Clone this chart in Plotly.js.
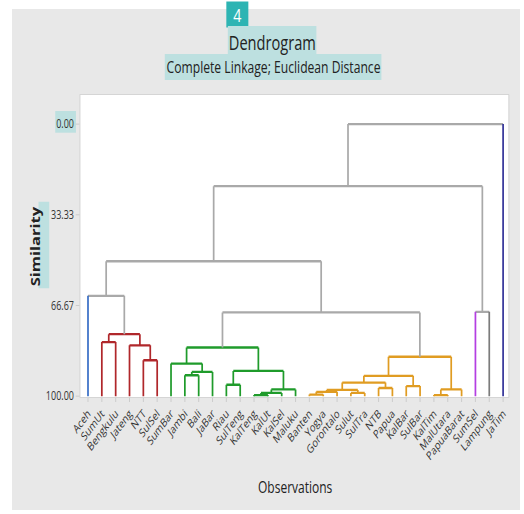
<!DOCTYPE html>
<html><head><meta charset="utf-8">
<script src="https://cdn.plot.ly/plotly-3.0.1.min.js"></script>
<style>
html,body{margin:0;padding:0;background:#fff;overflow:hidden;}
#panel{position:absolute;left:12px;top:9px;width:508px;height:501px;background:#e8e8e8;}
#chart{position:absolute;left:0;top:0;transform-origin:0 0;}
</style></head><body>
<div id="panel"></div><div id="chart"></div>
<script>
// ---- data ----
const leaves = ['Aceh','SumUt','Bengkulu','Jateng','NTT','SulSel','SumBar','Jambi','Bali','JaBar',
  'Riau','SulTeng','KalTeng','KalUt','KalSel','Maluku','Banten','Yogya','Gorontalo','Sulut',
  'SulTra','NTB','Papua','KalBar','SulBar','KalTim','MalUtara','PapuaBarat','SumSel','Lampung','JaTim'];
// linkage: merge k creates node id leaves.length + k
const mergeA = [12,25,16,31,19,33,36,34,32,21,23,10,37,43,7,45,42,6,4,44,48,3,1,53,51,28,0,57,58,59];
const mergeB = [13,26,17,14,20,18,35,15,27,22,24,11,40,41,8,9,38,46,5,39,47,49,2,52,50,29,54,55,56,30];
const mergeSim = [99.6,99.6,99.4,98.8,98.8,98.4,97.7,97.5,97.5,97.0,96.3,95.8,95.0,92.5,92.3,91.1,90.7,88.0,
  86.8,85.5,82.1,81.3,80.1,77.2,69.2,69.0,63.1,50.4,22.8,0.0];
const yTickVals = [0, 33.33, 66.67, 100];
const yTickText = ['0.00','33.33','66.67','100.00'];

// ---- styles ----
const clusterColors = {0:'#3a6fc6', 54:'#b0272b', 51:'#1f9b2b', 50:'#e09c22', 28:'#b43fe2', 29:'#7c7c7c', 30:'#35359a'};
const linkGray = '#a9a9a9';
const FONT = '"Open Sans", sans-serif';
const SX = 0.75;              // horizontal condensing of the whole figure
const W = 524 / SX, H = 514;

const N = leaves.length;
const total = N + mergeA.length;
const xPos = new Array(total), hPos = new Array(total), kids = {};
for (let i = 0; i < N; i++) { xPos[i] = i; hPos[i] = 100; }
mergeA.forEach((a, k) => {
  const id = N + k, b = mergeB[k];
  kids[id] = [a, b];
  xPos[id] = (xPos[a] + xPos[b]) / 2;
  hPos[id] = mergeSim[k];
});
const nodeColor = {};
function paint(n, c) { nodeColor[n] = c; if (kids[n]) kids[n].forEach(ch => paint(ch, c)); }
Object.keys(clusterColors).forEach(r => paint(+r, clusterColors[r]));

const segs = {};
function add(col, x0, y0, x1, y1) {
  if (!segs[col]) segs[col] = {x: [], y: []};
  segs[col].x.push(x0, x1, null); segs[col].y.push(y0, y1, null);
}
mergeA.forEach((a, k) => {
  const p = N + k, b = mergeB[k];
  const pc = nodeColor[p];
  add(pc || linkGray, xPos[a], hPos[p], xPos[b], hPos[p]);
  [a, b].forEach(c => {
    const vc = pc || (c < N ? nodeColor[c] : null) || linkGray;
    add(vc, xPos[c], hPos[c], xPos[c], hPos[p]);
  });
});
const traces = Object.keys(segs).map(col => ({
  type: 'scatter', mode: 'lines', x: segs[col].x, y: segs[col].y,
  line: {color: col, width: 2.3}, hoverinfo: 'skip', showlegend: false
}));

// paper-coordinate helpers from final (on-screen) pixel positions
const px = v => (v - 80) / 428, py = v => (397 - v) / 302;
const hl = '#bde0e0';
const rect = (x0, x1, y0, y1, col) => ({type: 'rect', xref: 'paper', yref: 'paper', x0: px(x0), x1: px(x1),
  y0: py(y1), y1: py(y0), fillcolor: col, line: {width: 0}, layer: 'below'});
const layout = {
  width: W, height: H,
  margin: {l: 80 / SX, r: 16 / SX, t: 95, b: 117},
  paper_bgcolor: 'rgba(0,0,0,0)', plot_bgcolor: '#ffffff',
  showlegend: false,
  font: {family: FONT, color: '#333'},
  xaxis: {range: [-0.56, 30.39], tickmode: 'array', tickvals: leaves.map((_, i) => i), ticktext: leaves,
    tickangle: -45, ticks: 'outside', ticklen: 4, tickcolor: '#c8c8c8', showline: true, linecolor: '#d2d2d2',
    mirror: true, showgrid: false, zeroline: false, tickfont: {family: FONT, size: 12, color: '#333'}},
  yaxis: {range: [100.3, -10.7], tickmode: 'array', tickvals: yTickVals, ticktext: yTickText,
    ticks: 'outside', ticklen: 5, tickcolor: '#c8c8c8', showline: true, linecolor: '#d2d2d2', mirror: true,
    showgrid: false, zeroline: false, tickfont: {family: FONT, size: 12, color: '#333'}},
  shapes: [
    rect(226, 248, 1.5, 27.5, '#2db4b3'),
    rect(227.5, 316, 26, 56.7, hl),
    rect(164.5, 381, 54, 80, hl),
    rect(55, 75.7, 111, 132.7, hl),
    rect(38.3, 49, 201.7, 288.3, hl)
  ],
  annotations: [
    {xref: 'paper', yref: 'paper', x: px(237), y: py(15), text: '4', showarrow: false, xanchor: 'center', yanchor: 'middle',
      font: {family: FONT, size: 19, color: '#ffffff'}},
    {xref: 'paper', yref: 'paper', x: px(272), y: py(42), text: 'Dendrogram', showarrow: false, xanchor: 'center', yanchor: 'middle',
      font: {family: FONT, size: 19.5, color: '#222'}},
    {xref: 'paper', yref: 'paper', x: px(272.7), y: py(67.5), text: 'Complete Linkage; Euclidean Distance', showarrow: false, xanchor: 'center', yanchor: 'middle',
      font: {family: FONT, size: 16.2, color: '#222'}},
    {xref: 'paper', yref: 'paper', x: px(34.5), y: py(246), text: 'Similarity', textangle: -90, showarrow: false, xanchor: 'center', yanchor: 'middle',
      font: {family: FONT, size: 16.5, color: '#222', weight: 'bold'}},
    {xref: 'paper', yref: 'paper', x: px(295), y: py(487), text: 'Observations', showarrow: false, xanchor: 'center', yanchor: 'middle',
      font: {family: FONT, size: 16, color: '#222'}}
  ]
};
document.getElementById('chart').style.transform = 'scaleX(' + SX + ')';
Plotly.newPlot('chart', traces, layout, {displayModeBar: false, staticPlot: true});
</script>
</body></html>
